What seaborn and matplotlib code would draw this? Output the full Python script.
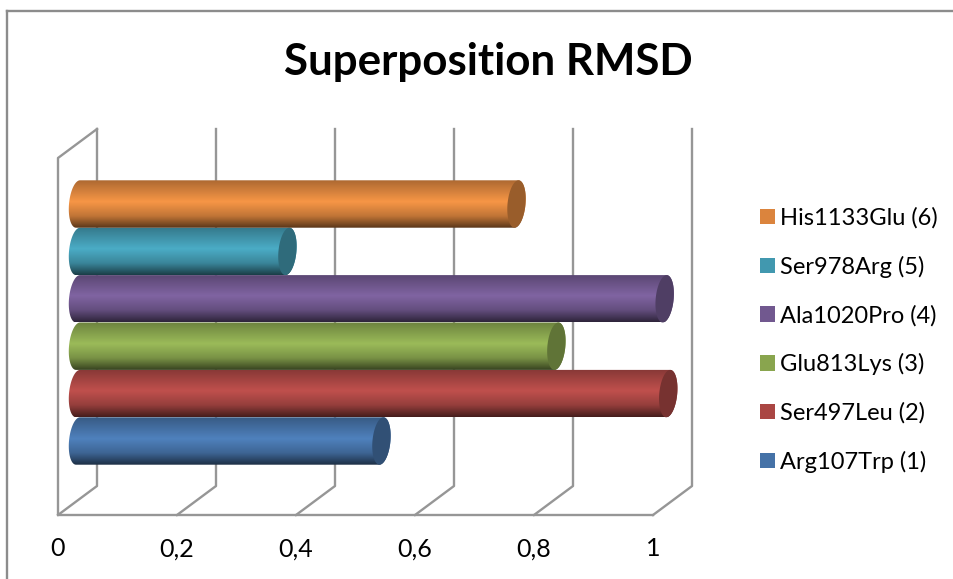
#Superposition RMSD - barras em cilindro estilo Excel 3D
import numpy as np
import pandas as pd
import matplotlib
matplotlib.use('Agg')
import matplotlib.pyplot as plt
from matplotlib.patches import Polygon
from matplotlib.lines import Line2D
import seaborn as sns

#Dados
mutacoes = ['Arg107Trp (1)', 'Ser497Leu (2)', 'Glu813Lys (3)', 'Ala1020Pro (4)', 'Ser978Arg (5)', 'His1133Glu (6)']
rmsd = [0.510, 0.992, 0.804, 0.986, 0.352, 0.737]
cores_legenda = ['#4572A7', '#AA4643', '#89A54E', '#71588F', '#4198AF', '#DB843D']
cores_luz = ['#4F81BD', '#C0504D', '#9BBB59', '#8064A2', '#4BACC6', '#F79646']
ticks = [0, 0.2, 0.4, 0.6, 0.8, 1]
tick_labels = ['0', '0,2', '0,4', '0,6', '0,8', '1']

df = pd.DataFrame({'Mutacao': mutacoes, 'RMSD': rmsd})

#Escalas em pixels da figura
W, H = 954, 579
PX_X0, PX_UNIT = 78, 595
PX_Y0, PX_CAT = 441, 47.4
DX_BACK, DX_FRONT = 19, -20
BACK_TOP, FRONT_TOP = 129, 158
BACK_FLOOR, FRONT_FLOOR = 486, 515
RX, TILT = 9, 2.0
COR_GRADE = '#969696'

plt.rcParams['font.family'] = ['Lato', 'DejaVu Sans']
fig = plt.figure(figsize=(W / 100, H / 100), dpi=100)
ax = fig.add_axes([0, 0, 1, 1])

sns.barplot(data=df, x='RMSD', y='Mutacao', hue='Mutacao', order=mutacoes, hue_order=mutacoes,
            palette=cores_legenda, saturation=1, width=1.0, orient='y', ax=ax, legend=True, linewidth=0)
ax.axis('off')


def yd(py):
    return (PX_Y0 - py) / PX_CAT


#Paredes e grade
for t in ticks:
    xb = t + DX_BACK / PX_UNIT
    xf = t + DX_FRONT / PX_UNIT
    ax.plot([xb, xb, xf], [yd(BACK_TOP), yd(BACK_FLOOR), yd(FRONT_FLOOR)], color=COR_GRADE, lw=1.7, zorder=1)
x0b = DX_BACK / PX_UNIT
x0f = DX_FRONT / PX_UNIT
ax.plot([x0b, x0f, x0f, 1 + x0f], [yd(BACK_TOP), yd(FRONT_TOP), yd(FRONT_FLOOR), yd(FRONT_FLOOR)],
        color=COR_GRADE, lw=1.7, zorder=1)

#Gradiente vertical do cilindro
stops = [0, 0.12, 0.45, 0.75, 0.92, 1]
fator = [0.70, 0.78, 1.0, 0.78, 0.50, 0.36]
s = np.linspace(0, 1, 96)
f = np.interp(s, stops, fator)


def elipse(x_c, y_c, t):
    x = x_c + (RX * np.cos(t) + TILT * np.sin(t)) / PX_UNIT
    y = y_c + 0.5 * np.sin(t)
    return np.column_stack([x, y])


bars = ax.patches[:len(mutacoes)]
for i, (v, luz) in enumerate(zip(rmsd, cores_luz)):
    z = 3 + i
    rgb = np.array(matplotlib.colors.to_rgb(luz))
    grad = (f[:, None] * rgb)[:, None, :]
    esquerda = elipse(0, i, np.linspace(np.pi / 2, 3 * np.pi / 2, 40))
    direita = elipse(v, i, np.linspace(-np.pi / 2, np.pi / 2, 40))
    silhueta = Polygon(np.vstack([esquerda, direita]), closed=True, transform=ax.transData,
                       facecolor='none', edgecolor='none')
    ax.add_patch(silhueta)
    im = ax.imshow(grad, extent=[-0.1, v + 0.1, i - 0.5, i + 0.5], origin='upper', aspect='auto', zorder=z,
                   interpolation='bilinear')
    im.set_clip_path(silhueta)
    ax.add_patch(Polygon(elipse(v, i, np.linspace(0, 2 * np.pi, 80)), closed=True,
                         facecolor=tuple(rgb * 0.62), edgecolor='none', zorder=z + 0.5))
for b in bars:
    b.set_visible(False)

ax.set_xlim(-PX_X0 / PX_UNIT, (W - PX_X0) / PX_UNIT)
ax.set_ylim((PX_Y0 - H) / PX_CAT, PX_Y0 / PX_CAT)

#Rótulos do eixo
for t, lab in zip(ticks, tick_labels):
    ax.text(t + DX_FRONT / PX_UNIT, yd(549), lab, ha='center', va='center', fontsize=18, color='black')

#Título
fig.text(488 / W, 1 - 62 / H, 'Superposition RMSD', ha='center', va='center', fontsize=31.6, fontweight='bold', color='black')

#Moldura
fig.add_artist(Line2D([7.5 / W, 7.5 / W], [0, 1 - 11 / H], color='#8c8c8c', lw=1.7))
fig.add_artist(Line2D([7.5 / W, 1], [1 - 11 / H, 1 - 11 / H], color='#8c8c8c', lw=1.7))

#Legenda
h, l = ax.get_legend_handles_labels()
ax.legend(h[::-1], l[::-1], loc='center left', bbox_to_anchor=(760 / W, 1 - 340 / H), frameon=False, fontsize=17,
          handlelength=0.635, handleheight=0.635, handletextpad=0.21, labelspacing=1.14, borderpad=0, borderaxespad=0)

fig.savefig('out.png', dpi=100)
